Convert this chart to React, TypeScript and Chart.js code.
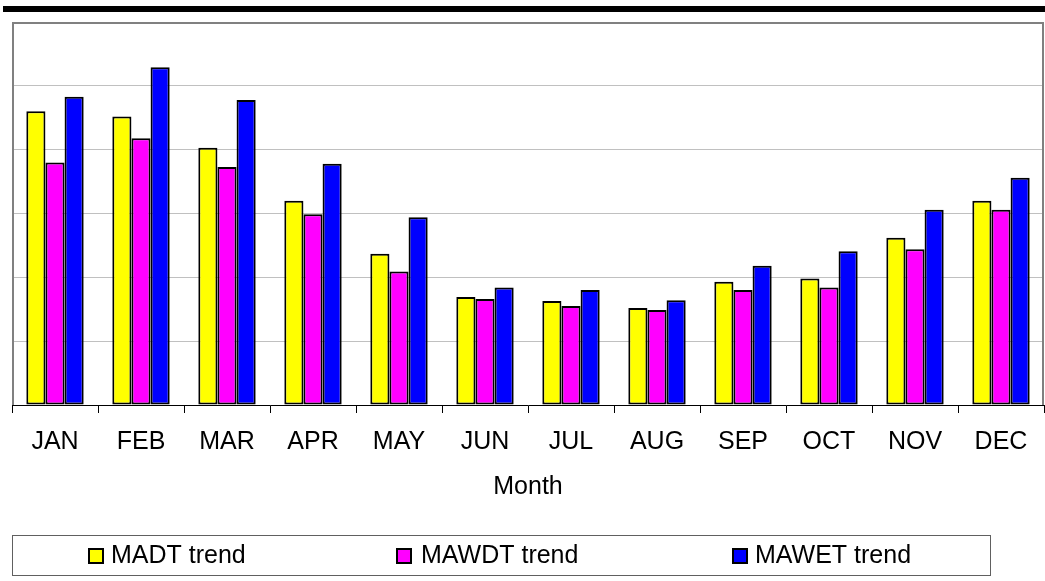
import React, { useEffect, useRef } from "react";
import { Chart, registerables } from "chart.js";

Chart.register(...registerables);

const months = ["JAN", "FEB", "MAR", "APR", "MAY", "JUN", "JUL", "AUG", "SEP", "OCT", "NOV", "DEC"];
const madtTrend = [4.6, 4.52, 4.03, 3.2, 2.37, 1.69, 1.63, 1.52, 1.93, 1.98, 2.62, 3.2];
const mawdtTrend = [3.8, 4.18, 3.73, 2.99, 2.09, 1.66, 1.55, 1.49, 1.8, 1.84, 2.44, 3.06];
const mawetTrend = [4.83, 5.29, 4.78, 3.78, 2.94, 1.84, 1.8, 1.64, 2.18, 2.41, 3.06, 3.56];
const seriesNames = ["MADT trend", "MAWDT trend", "MAWET trend"];
const seriesColors = ["#FFFF00", "#FF00FF", "#0000FF"];
const xTitle = "Month";

const FONT = "'Liberation Sans', Arial, sans-serif";

const decorPlugin = {
  id: "decor",
  beforeDatasetsDraw(chart: any) {
    const { ctx, chartArea } = chart;
    ctx.save();
    ctx.strokeStyle = "#808080";
    ctx.lineWidth = 2;
    ctx.beginPath();
    ctx.moveTo(chartArea.left + 1, chartArea.bottom);
    ctx.lineTo(chartArea.left + 1, chartArea.top + 1);
    ctx.lineTo(chartArea.right - 1, chartArea.top + 1);
    ctx.lineTo(chartArea.right - 1, chartArea.bottom);
    ctx.stroke();
    ctx.restore();
  },
  afterDraw(chart: any) {
    const { ctx } = chart;
    ctx.save();
    ctx.fillStyle = "#000";
    ctx.fillRect(3, 6, 1042, 6);
    ctx.strokeStyle = "#606060";
    ctx.lineWidth = 1;
    ctx.strokeRect(12.5, 535.5, 978, 40);
    const boxX = [88, 396, 732];
    const textX = [111, 421, 755];
    ctx.font = "25px " + FONT;
    ctx.textBaseline = "middle";
    ctx.textAlign = "left";
    chart.data.datasets.forEach((ds: any, i: number) => {
      ctx.fillStyle = ds.backgroundColor;
      ctx.fillRect(boxX[i], 548, 16, 16);
      ctx.strokeStyle = "#000";
      ctx.lineWidth = 2;
      ctx.strokeRect(boxX[i] + 1, 549, 14, 14);
      ctx.fillStyle = "#000";
      ctx.fillText(ds.label, textX[i], 556.5);
    });
    ctx.restore();
  },
};

export default function App() {
  const ref = useRef<HTMLCanvasElement>(null);
  useEffect(() => {
    if (!ref.current) return;
    const datasets = [madtTrend, mawdtTrend, mawetTrend].map((d, i) => ({
      label: seriesNames[i],
      data: d,
      backgroundColor: seriesColors[i],
      borderColor: "#000",
      borderWidth: 2,
      borderSkipped: false as any,
      categoryPercentage: 0.667,
      barPercentage: 1.0,
    }));
    const chart = new Chart(ref.current, {
      type: "bar",
      data: { labels: months, datasets },
      options: {
        animation: false,
        responsive: false,
        devicePixelRatio: 1,
        layout: { padding: { left: 12, right: 1, top: 22, bottom: 0 } },
        plugins: { legend: { display: false }, tooltip: { enabled: false } },
        scales: {
          x: {
            offset: true,
            grid: { drawOnChartArea: false, drawTicks: true, tickLength: 8, color: "#000", offset: true },
            border: { display: true, color: "#000", width: 1 },
            ticks: { color: "#000", font: { family: FONT, size: 25 }, padding: 14, maxRotation: 0, autoSkip: false },
            title: { display: true, text: xTitle, color: "#000", font: { family: FONT, size: 25 }, padding: { top: 0, bottom: 79 } },
            afterFit: (scale: any) => { scale.height = 176; },
          },
          y: {
            min: 0,
            max: 6,
            ticks: { display: false, stepSize: 1 },
            grid: { color: "#c0c0c0", lineWidth: 1, drawTicks: false },
            border: { display: false },
          },
        },
      },
      plugins: [decorPlugin],
    });
    return () => chart.destroy();
  }, []);
  return (
    <div style={{ position: "absolute", left: 0, top: 0, width: 1045, height: 581, background: "#fff" }}>
      <canvas ref={ref} width={1045} height={581} />
    </div>
  );
}
